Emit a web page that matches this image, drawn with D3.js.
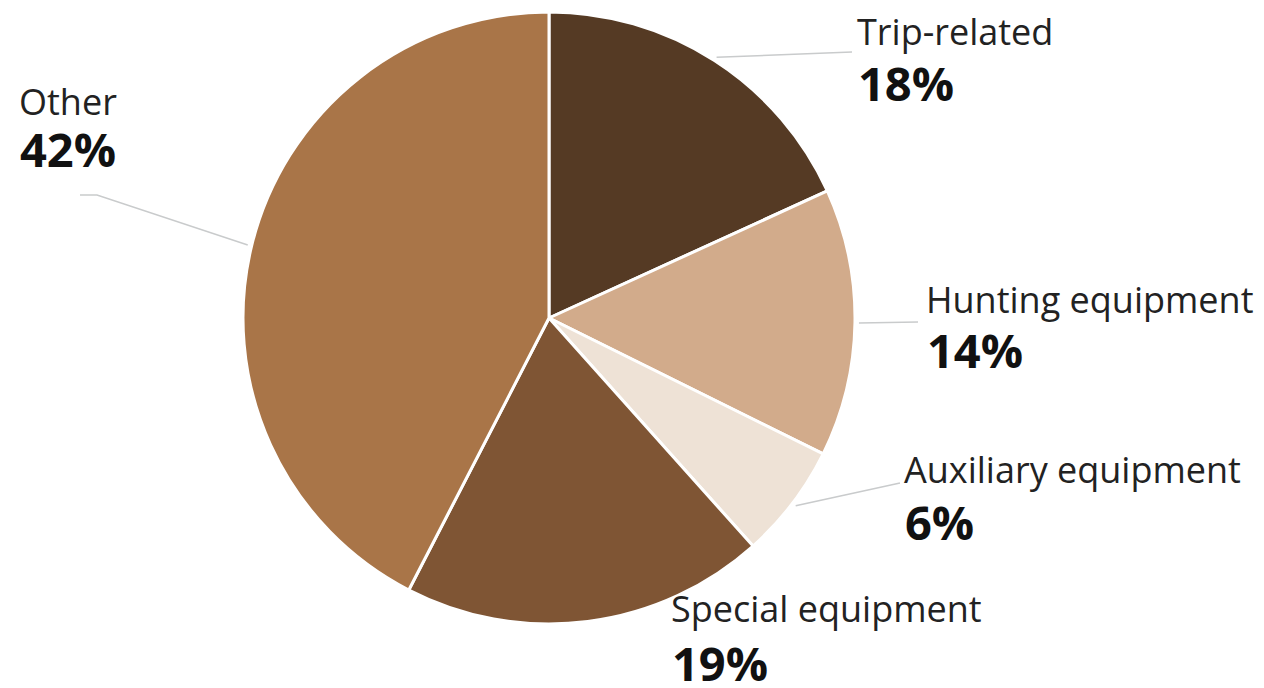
<!DOCTYPE html>
<html><head><meta charset="utf-8">
<script src="https://cdn.jsdelivr.net/npm/d3@7"></script>
<style>html,body{margin:0;padding:0;background:#fff;}</style>
</head><body>
<svg id="chart" width="1264" height="688"></svg>
<script>
const categories = ["Trip-related", "Hunting equipment", "Auxiliary equipment", "Special equipment", "Other"];
const values = [18, 14, 6, 19, 42];
const valueLabels = ["18%", "14%", "6%", "19%", "42%"];
const colors = ["#553a24", "#d2ab8b", "#eee2d6", "#7f5534", "#a97548"];

// label layout (x, name baseline, value baseline, leader end point, elbow)
const labelLayout = [
  {x: 857, y1: 45, y2: 101, lx: 852, ly: 52},
  {x: 926, y1: 313, y2: 368, lx: 918, ly: 322},
  {x: 904, y1: 483, y2: 540, lx: 900, ly: 483},
  {x: 671, y1: 622, y2: 681, lx: null, ly: null},
  {x: 19,  y1: 115, y2: 167, lx: 97, ly: 195, ex: 80, ey: 195}
];

const cx = 549, cy = 318, r = 306;
const svg = d3.select("#chart");
const g = svg.append("g").attr("transform", `translate(${cx},${cy})`);

const pie = d3.pie().sort(null).value(d => d);
const arcs = pie(values);
const arc = d3.arc().innerRadius(0).outerRadius(r);
const outerArc = d3.arc().innerRadius(r + 4).outerRadius(r + 4);

g.selectAll("path.slice").data(arcs).join("path")
  .attr("class", "slice")
  .attr("d", arc)
  .attr("fill", (d, i) => colors[i])
  .attr("stroke", "#fff")
  .attr("stroke-width", 3)
  .attr("stroke-linejoin", "round");

// leader lines
arcs.forEach((d, i) => {
  const L = labelLayout[i];
  if (L.lx == null) return;
  const [sx, sy] = outerArc.centroid(d);
  const pts = [[sx + cx, sy + cy], [L.lx, L.ly]];
  if (L.ex != null) pts.push([L.ex, L.ey]);
  svg.append("path")
    .attr("d", d3.line()(pts))
    .attr("fill", "none")
    .attr("stroke", "#c9cbcc")
    .attr("stroke-width", 1.5);
});

// labels
categories.forEach((c, i) => {
  const L = labelLayout[i];
  svg.append("text").attr("x", L.x).attr("y", L.y1)
    .attr("font-family", "'Open Sans', sans-serif")
    .attr("font-size", 36).attr("fill", "#222")
    .text(c);
  svg.append("text").attr("x", L.x + 1).attr("y", L.y2)
    .attr("font-family", "'Open Sans', sans-serif")
    .attr("font-weight", "bold")
    .attr("font-size", 47).attr("fill", "#111")
    .text(valueLabels[i]);
});
</script>
</body></html>
